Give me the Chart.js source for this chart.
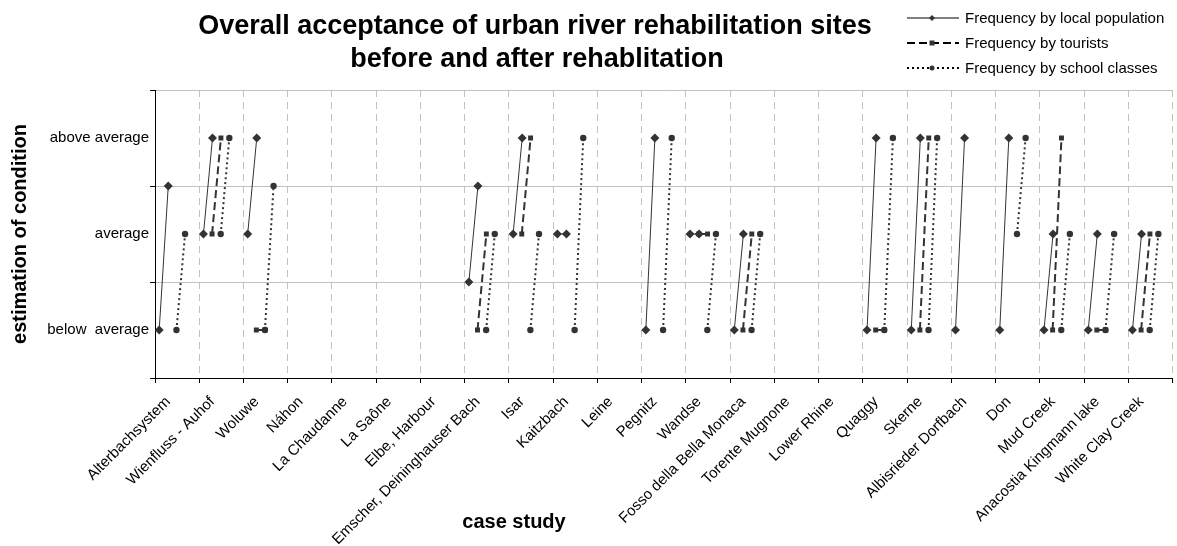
<!DOCTYPE html>
<html>
<head>
<meta charset="utf-8">
<script src="https://cdn.jsdelivr.net/npm/chart.js@4.4.1/dist/chart.umd.min.js"></script>
<style>
  html, body { margin: 0; padding: 0; background: #fff; }
</style>
</head>
<body>
<canvas id="myChart" width="1177" height="546"></canvas>
<script>
// case studies (one category per unit on the x axis)
const casos = [
  "Alterbachsystem", "Wienfluss - Auhof", "Woluwe", "Náhon", "La Chaudanne",
  "La Saône", "Elbe, Harbour", "Emscher, Deininghauser Bach", "Isar", "Kaitzbach",
  "Leine", "Pegnitz", "Wandse", "Fosso della Bella Monaca", "Torente Mugnone",
  "Lower Rhine", "Quaggy", "Skerne", "Albisrieder Dorfbach", "Don", "Mud Creek",
  "Anacostia Kingmann lake", "White Clay Creek"
];

// y levels
const nivelValores = [1, 2, 3];
const nivelEtiquetas = ["below  average", "average", "above average"];

// before / after per case study (null = no data)
const localAntes   = [1, 2, 2, null, null, null, null, 1.5, 2, 2, null, 1, 2, 1, null, null, 1, 1, 1, 1, 1, 1, 1];
const localDespues = [2.5, 3, 3, null, null, null, null, 2.5, 3, 2, null, 3, 2, 2, null, null, 3, 3, 3, 3, 2, 2, 2];

const turistaAntes   = [null, 2, 1, null, null, null, null, 1, 2, null, null, null, 2, 1, null, null, 1, 1, null, null, 1, 1, 1];
const turistaDespues = [null, 3, 1, null, null, null, null, 2, 3, null, null, null, 2, 2, null, null, 1, 3, null, null, 3, 1, 2];

const colegioAntes   = [1, 2, 1, null, null, null, null, 1, 1, 1, null, 1, 1, 1, null, null, 1, 1, null, 2, 1, 1, 1];
const colegioDespues = [2, 3, 2.5, null, null, null, null, 2, 2, 3, null, 3, 2, 2, null, null, 3, 3, null, 3, 2, 2, 2];

const titulo = ["Overall acceptance of urban river rehabilitation sites", "before and after rehablitation"];

// desplazamiento dentro de cada categoria (antes, despues)
const desplLocal = [0.095, 0.3];
const desplTurista = [0.29, 0.49];
const desplColegio = [0.485, 0.68];

const FUENTE = "'Liberation Sans', Arial, sans-serif";
const GRIS = "#333333";

function armaPuntos(antes, despues, despl) {
  let puntos = [];
  for (let i = 0; i < casos.length; i++) {
    if (antes[i] === null || despues[i] === null) continue;
    puntos.push({ x: i + despl[0], y: antes[i] });
    puntos.push({ x: i + despl[1], y: despues[i] });
    puntos.push({ x: i + despl[1] + 0.01, y: null });
  }
  return puntos;
}

function esMitad(v) {
  return Math.abs(v - Math.floor(v) - 0.5) < 0.001;
}

// titulo, leyenda y titulo del eje x
const textosExtra = {
  id: "textosExtra",
  afterDraw(chart) {
    const ctx = chart.ctx;
    ctx.save();
    ctx.fillStyle = "#000";
    ctx.textAlign = "center";
    ctx.textBaseline = "alphabetic";
    ctx.font = "bold 27px " + FUENTE;
    ctx.fillText(titulo[0], 535, 34);
    ctx.fillText(titulo[1], 537, 67);

    ctx.textBaseline = "middle";
    ctx.font = "bold 20px " + FUENTE;
    ctx.fillText("case study", 514, 522);

    // leyenda
    ctx.textAlign = "left";
    ctx.font = "15px " + FUENTE;
    chart.data.datasets.forEach(function (ds, k) {
      const y = 18 + k * 25;
      ctx.strokeStyle = "#000";
      ctx.lineWidth = ds.borderWidth;
      ctx.setLineDash(ds.borderDash || []);
      ctx.beginPath();
      ctx.moveTo(907, y);
      ctx.lineTo(959, y);
      ctx.stroke();
      ctx.setLineDash([]);
      ctx.fillStyle = GRIS;
      const r = 3;
      ctx.beginPath();
      if (ds.pointStyle === "rectRot") {
        ctx.moveTo(932, y - r); ctx.lineTo(932 + r, y); ctx.lineTo(932, y + r); ctx.lineTo(932 - r, y);
        ctx.closePath();
      } else if (ds.pointStyle === "rect") {
        ctx.rect(932 - 2.5, y - 2.5, 5, 5);
      } else {
        ctx.arc(932, y, 2.5, 0, Math.PI * 2);
      }
      ctx.fill();
      ctx.fillStyle = "#000";
      ctx.fillText(ds.label, 965, y + 1);
    });
    ctx.restore();
  },
};

const ctx = document.getElementById("myChart").getContext("2d");

const data = {
  datasets: [
    {
      label: "Frequency by local population",
      data: armaPuntos(localAntes, localDespues, desplLocal),
      borderColor: GRIS,
      backgroundColor: GRIS,
      borderWidth: 1,
      pointStyle: "rectRot",
      pointRadius: 4.5,
      pointBorderWidth: 0,
    },
    {
      label: "Frequency by tourists",
      data: armaPuntos(turistaAntes, turistaDespues, desplTurista),
      borderColor: GRIS,
      backgroundColor: GRIS,
      borderWidth: 2,
      borderDash: [8, 4],
      pointStyle: "rect",
      pointRadius: 3.5,
      pointBorderWidth: 0,
    },
    {
      label: "Frequency by school classes",
      data: armaPuntos(colegioAntes, colegioDespues, desplColegio),
      borderColor: GRIS,
      backgroundColor: GRIS,
      borderWidth: 2,
      borderDash: [2, 3],
      pointStyle: "circle",
      pointRadius: 3.2,
      pointBorderWidth: 0,
    },
  ],
};

const config = {
  type: "line",
  data: data,
  plugins: [textosExtra],
  options: {
    responsive: false,
    animation: false,
    devicePixelRatio: 1,
    spanGaps: false,
    layout: { padding: { top: 90, right: 2, left: 0, bottom: 0 } },
    plugins: {
      legend: { display: false },
      title: { display: false },
      tooltip: { enabled: false },
    },
    scales: {
      x: {
        type: "linear",
        min: 0,
        max: casos.length,
        afterBuildTicks: function (scale) {
          let t = [];
          for (let i = 0; i <= casos.length; i++) {
            t.push({ value: i });
            if (i < casos.length) t.push({ value: i + 0.5 });
          }
          scale.ticks = t;
        },
        afterFit: function (scale) {
          scale.height = 168;
          scale.paddingLeft = 0;
          scale.paddingRight = 0;
        },
        ticks: {
          autoSkip: false,
          minRotation: 45,
          maxRotation: 45,
          padding: 10,
          labelOffset: -9,
          color: "#000",
          font: { family: FUENTE, size: 15 },
          callback: function (v) {
            return esMitad(v) ? casos[Math.floor(v)] : "";
          },
        },
        grid: {
          color: function (c) {
            return c.tick && !esMitad(c.tick.value) ? "#c0c0c0" : "transparent";
          },
          tickColor: function (c) {
            return c.tick && !esMitad(c.tick.value) ? "#000" : "transparent";
          },
          tickLength: 5,
          lineWidth: 1,
        },
        border: { display: true, color: "#000", width: 1, dash: [7, 5] },
      },
      y: {
        type: "linear",
        min: 0.5,
        max: 3.5,
        afterBuildTicks: function (scale) {
          scale.ticks = [0.5, 1, 1.5, 2, 2.5, 3, 3.5].map(function (v) {
            return { value: v };
          });
        },
        afterFit: function (scale) {
          scale.width = 155;
        },
        ticks: {
          padding: 1,
          color: "#000",
          font: { family: FUENTE, size: 15 },
          callback: function (v) {
            const k = nivelValores.indexOf(v);
            return k >= 0 ? nivelEtiquetas[k] : "";
          },
        },
        grid: {
          color: function (c) {
            return c.tick && esMitad(c.tick.value) ? "#c0c0c0" : "transparent";
          },
          tickColor: function (c) {
            return c.tick && esMitad(c.tick.value) ? "#000" : "transparent";
          },
          tickLength: 5,
          lineWidth: 1,
        },
        border: { display: true, color: "#000", width: 1 },
        title: {
          display: true,
          text: "estimation of condition",
          color: "#000",
          font: { family: FUENTE, size: 20, weight: "bold" },
          padding: { top: 8, bottom: 0 },
        },
      },
    },
  },
};

const myChart = new Chart(ctx, config);
</script>
</body>
</html>
